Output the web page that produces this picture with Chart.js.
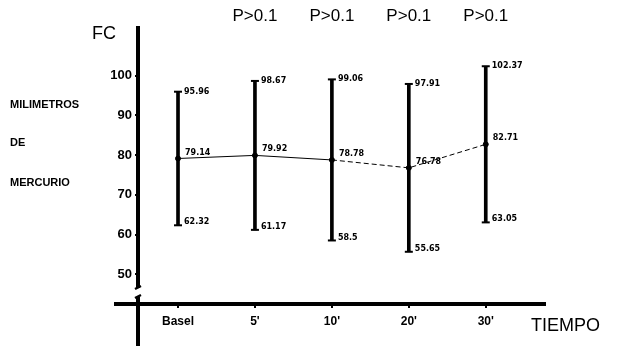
<!DOCTYPE html>
<html>
<head>
<meta charset="utf-8">
<script src="https://cdn.jsdelivr.net/npm/chart.js@4.4.1/dist/chart.umd.min.js"></script>
<style>
  body { margin: 0; background: #fff; }
  .wrap { width: 620px; height: 350px; position: relative; }
</style>
</head>
<body>
<div class="wrap"><canvas id="myChart" width="620" height="350"></canvas></div>
<script>
// data
const categories = ["Basel", "5'", "10'", "20'", "30'"];
const meanValues = [79.14, 79.92, 78.78, 76.78, 82.71];
const upperValues = [95.96, 98.67, 99.06, 97.91, 102.37];
const lowerValues = [62.32, 61.17, 58.5, 55.65, 63.05];
const pLabels = ["", "P>0.1", "P>0.1", "P>0.1", "P>0.1"];
const yTicks = [50, 60, 70, 80, 90, 100];

const boldFont = "'Liberation Sans', 'DejaVu Sans', sans-serif";

// floating bars for the ranges, caps as line points
const rangeData = categories.map((c, i) => ({ x: i, y: [lowerValues[i], upperValues[i]] }));
const capData = [];
categories.forEach((c, i) => {
    capData.push({ x: i, y: upperValues[i] });
    capData.push({ x: i, y: lowerValues[i] });
});
const meanData = categories.map((c, i) => ({ x: i, y: meanValues[i] }));

const textPlugin = {
    id: "textPlugin",
    afterDraw(chart) {
        const ctx = chart.ctx;
        const xs = chart.scales.x;
        const ys = chart.scales.y;
        const area = chart.chartArea;
        ctx.save();
        ctx.fillStyle = "#000";
        ctx.strokeStyle = "#000";

        // value labels next to each bar
        ctx.font = "bold 8px 'DejaVu Sans', sans-serif";
        ctx.textAlign = "left";
        ctx.textBaseline = "middle";
        for (let i = 0; i < categories.length; i++) {
            let px = xs.getPixelForValue(i);
            ctx.fillText(String(upperValues[i]), px + 6, ys.getPixelForValue(upperValues[i]));
            ctx.fillText(String(meanValues[i]), px + 7, ys.getPixelForValue(meanValues[i]) - 6);
            ctx.fillText(String(lowerValues[i]), px + 6, ys.getPixelForValue(lowerValues[i]) - 3);
        }

        // P values above the chart
        ctx.font = "17px 'Liberation Sans Narrow', 'Liberation Sans', sans-serif";
        ctx.textAlign = "center";
        ctx.textBaseline = "middle";
        for (let i = 0; i < categories.length; i++) {
            if (pLabels[i]) ctx.fillText(pLabels[i], xs.getPixelForValue(i), 16);
        }

        // axis titles
        ctx.font = "18px " + boldFont;
        ctx.fillText("FC", area.left - 34, 34);
        ctx.textAlign = "left";
        ctx.fillText("TIEMPO", area.right - 14, area.bottom + 22);
        ctx.font = "bold 11px " + boldFont;
        ctx.fillText("MILIMETROS", 10, 105);
        ctx.fillText("DE", 10, 143);
        ctx.fillText("MERCURIO", 10, 183);

        // axis extensions and break mark
        ctx.lineWidth = 4;
        ctx.beginPath();
        ctx.moveTo(area.left - 24, area.bottom);
        ctx.lineTo(area.left, area.bottom);
        ctx.moveTo(area.left, area.bottom);
        ctx.lineTo(area.left, area.bottom + 42);
        ctx.stroke();
        ctx.fillStyle = "#fff";
        ctx.fillRect(area.left - 4, area.bottom - 16, 8, 9);
        ctx.lineWidth = 2.5;
        ctx.beginPath();
        ctx.moveTo(area.left - 3, area.bottom - 15);
        ctx.lineTo(area.left + 3, area.bottom - 18);
        ctx.moveTo(area.left - 3, area.bottom - 6);
        ctx.lineTo(area.left + 3, area.bottom - 9);
        ctx.stroke();
        ctx.restore();
    }
};

new Chart(document.getElementById("myChart"), {
    data: {
        datasets: [
            {
                type: "bar",
                data: rangeData,
                backgroundColor: "#000",
                borderWidth: 0,
                barThickness: 3
            },
            {
                type: "scatter",
                data: capData,
                pointStyle: "line",
                pointRadius: 4,
                borderWidth: 2,
                borderColor: "#000"
            },
            {
                type: "line",
                data: meanData,
                borderColor: "#000",
                borderWidth: 1,
                pointRadius: 2.5,
                pointBackgroundColor: "#000",
                pointBorderColor: "#000",
                segment: {
                    borderDash: ctx => ctx.p0DataIndex >= 2 ? [5, 3] : undefined
                }
            }
        ]
    },
    options: {
        responsive: false,
        animation: false,
        devicePixelRatio: 1,
        layout: { padding: { left: 0, right: 75, top: 28, bottom: 0 } },
        plugins: { legend: { display: false }, tooltip: { enabled: false } },
        scales: {
            x: {
                type: "linear",
                min: -0.52,
                max: 4.77,
                offset: false,
                afterBuildTicks: axis => { axis.ticks = categories.map((c, i) => ({ value: i })); },
                afterFit: scale => { scale.height = 46; },
                ticks: {
                    callback: v => categories[v],
                    color: "#000",
                    font: { family: boldFont, size: 12, weight: "bold" },
                    padding: 6,
                    maxRotation: 0,
                    autoSkip: false
                },
                grid: { offset: false, drawOnChartArea: false, drawTicks: true, tickLength: 4, color: "#000", lineWidth: 2 },
                border: { display: true, color: "#000", width: 4 }
            },
            y: {
                type: "linear",
                min: 42.5,
                max: 112,
                afterBuildTicks: axis => { axis.ticks = yTicks.map(v => ({ value: v })); },
                afterFit: scale => { scale.width = 138; },
                ticks: {
                    color: "#000",
                    font: { family: boldFont, size: 13, weight: "bold" },
                    padding: 3,
                    autoSkip: false
                },
                grid: { drawOnChartArea: false, drawTicks: true, tickLength: 3, color: "#000", lineWidth: 2 },
                border: { display: true, color: "#000", width: 4 }
            }
        }
    },
    plugins: [textPlugin]
});
</script>
</body>
</html>
